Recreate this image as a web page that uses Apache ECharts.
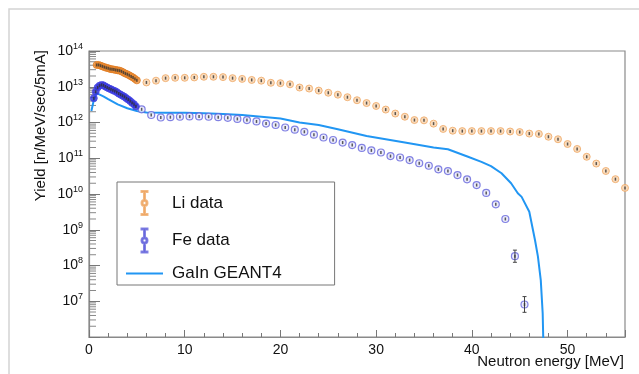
<!DOCTYPE html>
<html>
<head>
<meta charset="utf-8">
<script src="https://cdn.jsdelivr.net/npm/echarts@6/dist/echarts.min.js"></script>
<style>
  html, body { margin: 0; padding: 0; background: #fff; }
  #chart { width: 639px; height: 374px; }
</style>
</head>
<body>
<div id="chart"></div>
<script>
// Li data: dense low-energy part and 1 MeV bins
const liDense = [
  [0.8, 4.07e13], [1.0, 4.07e13], [1.2, 3.89e13], [1.4, 3.72e13], [1.6, 3.55e13],
  [1.8, 3.39e13], [2.0, 3.31e13], [2.2, 3.16e13], [2.4, 3.09e13], [2.6, 3.02e13],
  [2.8, 2.95e13], [3.0, 2.88e13], [3.2, 2.82e13], [3.4, 2.69e13], [3.6, 2.51e13],
  [3.8, 2.34e13], [4.0, 2.24e13], [4.2, 2.09e13], [4.4, 1.95e13], [4.6, 1.82e13],
  [4.8, 1.66e13], [5.0, 1.51e13]
];
const liCoarse = [
  [6, 1.32e13], [7, 1.48e13], [8, 1.74e13], [9, 1.78e13], [10, 1.78e13],
  [11, 1.82e13], [12, 1.9e13], [13, 1.9e13], [14, 1.86e13], [15, 1.74e13],
  [16, 1.66e13], [17, 1.55e13], [18, 1.48e13], [19, 1.29e13], [20, 1.26e13],
  [21, 1.17e13], [22, 9.5e12], [23, 8.9e12], [24, 7.8e12], [25, 6.8e12],
  [26, 6.0e12], [27, 5.1e12], [28, 4.2e12], [29, 3.5e12], [30, 2.9e12],
  [31, 2.3e12], [32, 1.78e12], [33, 1.45e12], [34, 1.17e12], [35, 1.15e12],
  [36, 9.3e11], [37, 6.6e11], [38, 5.9e11], [39, 5.75e11], [40, 5.75e11],
  [41, 5.75e11], [42, 5.75e11], [43, 5.75e11], [44, 5.6e11], [45, 5.4e11],
  [46, 4.9e11], [47, 4.8e11], [48, 4.0e11], [49, 3.4e11], [50, 2.5e11],
  [51, 1.82e11], [52, 1.1e11], [53, 7.1e10], [54, 4.4e10], [55, 2.6e10],
  [56, 1.48e10]
];

// Fe data
const feDense = [
  [0.5, 4.79e12], [0.7, 7.24e12], [0.9, 9.55e12], [1.1, 1.07e13], [1.3, 1.12e13],
  [1.5, 1.10e13], [1.7, 1.02e13], [1.9, 9.55e12], [2.1, 8.91e12], [2.3, 8.51e12],
  [2.5, 7.94e12], [2.7, 7.59e12], [2.9, 7.08e12], [3.1, 6.46e12], [3.3, 6.03e12],
  [3.5, 5.62e12], [3.7, 5.25e12], [3.9, 4.79e12], [4.1, 4.37e12], [4.3, 3.98e12],
  [4.5, 3.55e12], [4.7, 3.24e12], [4.9, 2.82e12]
];
const feCoarse = [
  [5.5, 2.34e12], [6.5, 1.62e12], [7.5, 1.38e12], [8.5, 1.41e12], [9.5, 1.45e12],
  [10.5, 1.48e12], [11.5, 1.48e12], [12.5, 1.45e12], [13.5, 1.41e12], [14.5, 1.35e12],
  [15.5, 1.26e12], [16.5, 1.17e12], [17.5, 1.07e12], [18.5, 9.33e11], [19.5, 8.51e11],
  [20.5, 7.24e11], [21.5, 6.31e11], [22.5, 5.5e11], [23.5, 4.57e11], [24.5, 3.8e11],
  [25.5, 3.24e11], [26.5, 2.75e11], [27.5, 2.34e11], [28.5, 1.95e11], [29.5, 1.66e11],
  [30.5, 1.45e11], [31.5, 1.15e11], [32.5, 1.05e11], [33.5, 8.91e10], [34.5, 7.24e10],
  [35.5, 6.17e10], [36.5, 4.9e10], [37.5, 4.37e10], [38.5, 3.39e10], [39.5, 2.57e10],
  [40.5, 1.78e10], [41.5, 1.07e10], [42.5, 5.13e9], [43.5, 2.0e9], [44.5, 1.82e8],
  [45.5, 8.1e6]
];
// visible error bars [energy, low, high]
const feErrors = [
  [44.5, 1.23e8, 2.69e8],
  [45.5, 4.9e6, 1.35e7]
];

// GaIn GEANT4 simulation
const geant4 = [
  [0.25, 2.1e12], [0.5, 4.2e12], [0.8, 6.6e12], [1.0, 6.3e12], [1.5, 5.4e12],
  [2, 4.5e12], [3, 3.2e12], [4, 2.5e12], [5, 2.1e12], [6, 1.9e12],
  [8, 1.86e12], [10, 1.86e12], [12, 1.82e12], [14, 1.74e12], [16, 1.62e12],
  [18, 1.45e12], [20, 1.29e12], [22, 1.0e12], [24, 8.5e11], [26, 6.5e11],
  [29, 4.2e11], [33, 2.75e11], [36, 2.0e11], [37.5, 1.78e11], [39.6, 1.1e11],
  [41, 7.9e10], [42, 6.0e10], [43.1, 3.8e10], [44.1, 2.0e10], [44.8, 1.05e10],
  [45.2, 8.3e9], [46.0, 3.2e9], [46.6, 5.1e8], [46.9, 1.8e8], [47.2, 3.9e7],
  [47.4, 4.6e6], [47.5, 3e5]
];

// log axis minor ticks (2..9 x 10^n)
const minorFactors = [2, 3, 4, 5, 6, 7, 8, 9];
const decades = [6, 7, 8, 9, 10, 11, 12, 13];
const minorTicks = [];
decades.forEach(d => minorFactors.forEach(f => minorTicks.push([0, f * Math.pow(10, d)])));

const FONT = 'Liberation Sans';
const errIcon = 'path://M1,0H7V1H4.5V9H3.5V1H1Z M3.5,15H4.5V23H7V24H1V23H3.5Z ' +
  'M1,12A3,3 0 1,1 7,12A3,3 0 1,1 1,12Z M2,12A2,2 0 1,0 6,12A2,2 0 1,0 2,12Z';
const lineIcon = 'path://M0,0H37V2H0Z';

const chart = echarts.init(document.getElementById('chart'), null, { renderer: 'canvas' });

const option = {
  backgroundColor: '#fff',
  animation: false,
  grid: { left: 89, right: 14, top: 51, bottom: 37, show: true, borderColor: '#8a8a8a', borderWidth: 1.2 },
  xAxis: {
    type: 'value', min: 0, max: 56, interval: 10,
    axisLine: { lineStyle: { color: '#8a8a8a', width: 1.2 } },
    axisTick: { inside: true, length: 7, lineStyle: { color: '#777' } },
    minorTick: { show: true, splitNumber: 5, length: 4, lineStyle: { color: '#777' } },
    axisLabel: { color: '#111', fontFamily: FONT, fontSize: 14, margin: 6, showMaxLabel: false },
    splitLine: { show: false }
  },
  yAxis: {
    type: 'log', logBase: 10, min: 1e6, max: 1e14,
    axisLine: { lineStyle: { color: '#8a8a8a', width: 1.2 } },
    axisTick: { inside: true, length: 11, lineStyle: { color: '#777' } },
    axisLabel: {
      margin: 6,
      formatter: v => {
        const e = Math.round(Math.log10(v));
        return e <= 6 ? '' : '{b|10}{s|' + e + '}';
      },
      rich: {
        b: { fontFamily: FONT, fontSize: 14, color: '#111', lineHeight: 18 },
        s: { fontFamily: FONT, fontSize: 9, color: '#111', verticalAlign: 'top', lineHeight: 10 }
      }
    },
    splitLine: { show: false }
  },
  legend: {
    orient: 'vertical', left: 117, top: 182,
    padding: [8, 53, 3, 9], itemGap: 11.5, itemWidth: 37, itemHeight: 24,
    backgroundColor: '#fff', borderColor: '#777', borderWidth: 1, borderRadius: 0,
    textStyle: { fontFamily: FONT, fontSize: 17, color: '#111', padding: [0, 0, 0, 4] },
    data: [
      { name: 'Li data', icon: errIcon, itemStyle: { color: '#e99a55' } },
      { name: 'Fe data', icon: errIcon, itemStyle: { color: '#5a5ad8' } },
      { name: 'GaIn GEANT4', icon: lineIcon, itemStyle: { color: '#2196f3' } }
    ]
  },
  graphic: [
    { type: 'rect', shape: { x: 9, y: 9, width: 700, height: 500 }, style: { fill: 'none', stroke: '#d4d4d4', lineWidth: 1.5 }, silent: true, z: -10 },
    { type: 'text', x: 41, y: 50, rotation: Math.PI / 2,
      style: { text: 'Yield [n/MeV/sec/5mA]', font: '15px "Liberation Sans"', fill: '#111', textAlign: 'right', textVerticalAlign: 'middle' } },
    { type: 'text', x: 624, y: 362,
      style: { text: 'Neutron energy [MeV]', font: '15px "Liberation Sans"', fill: '#111', textAlign: 'right', textVerticalAlign: 'middle' } }
  ],
  series: [
    {
      name: 'GaIn GEANT4', type: 'line', data: geant4, symbol: 'none', smooth: false,
      lineStyle: { color: '#2196f3', width: 2 }, itemStyle: { color: '#2196f3' }, z: 2
    },
    {
      name: 'Li data', type: 'scatter', data: liCoarse, symbol: 'circle', symbolSize: 7,
      itemStyle: { color: '#f9d3ad', borderColor: '#efa864', borderWidth: 1 }, z: 3
    },
    {
      name: 'Li data', type: 'scatter', data: liDense, symbol: 'circle', symbolSize: 7,
      itemStyle: { color: '#ea8e3a', borderColor: '#e07c22', borderWidth: 1 }, z: 3
    },
    {
      name: 'Fe data', type: 'scatter', data: feCoarse, symbol: 'circle', symbolSize: 7,
      itemStyle: { color: '#e6e6fa', borderColor: '#6464dc', borderWidth: 1.2 }, z: 3
    },
    {
      name: 'Fe data', type: 'scatter', data: feDense, symbol: 'circle', symbolSize: 7,
      itemStyle: { color: '#2c2ccf', borderColor: '#4a4aea', borderWidth: 1 }, z: 3
    },
    {
      name: 'li marks', type: 'scatter', data: liCoarse.concat(liDense), symbol: 'rect', symbolSize: [1.5, 3],
      itemStyle: { color: '#333' }, silent: true, z: 4
    },
    {
      name: 'fe marks', type: 'scatter', data: feCoarse.concat(feDense), symbol: 'rect', symbolSize: [1.5, 3],
      itemStyle: { color: '#333' }, silent: true, z: 4
    },
    {
      name: 'fe errors', type: 'custom', data: feErrors, silent: true, z: 4,
      renderItem: (params, api) => {
        const lo = api.coord([api.value(0), api.value(1)]);
        const hi = api.coord([api.value(0), api.value(2)]);
        const st = { stroke: '#444', lineWidth: 1 };
        return {
          type: 'group', children: [
            { type: 'line', shape: { x1: lo[0], y1: lo[1], x2: hi[0], y2: hi[1] }, style: st },
            { type: 'line', shape: { x1: lo[0] - 2, y1: lo[1], x2: lo[0] + 2, y2: lo[1] }, style: st },
            { type: 'line', shape: { x1: hi[0] - 2, y1: hi[1], x2: hi[0] + 2, y2: hi[1] }, style: st }
          ]
        };
      }
    },
    {
      name: 'minor ticks', type: 'custom', data: minorTicks, silent: true, z: 1,
      renderItem: (params, api) => {
        const p = api.coord([api.value(0), api.value(1)]);
        return { type: 'line', shape: { x1: p[0], y1: p[1], x2: p[0] + 7, y2: p[1] }, style: { stroke: '#888', lineWidth: 1 } };
      }
    }
  ]
};

chart.setOption(option);
</script>
</body>
</html>
